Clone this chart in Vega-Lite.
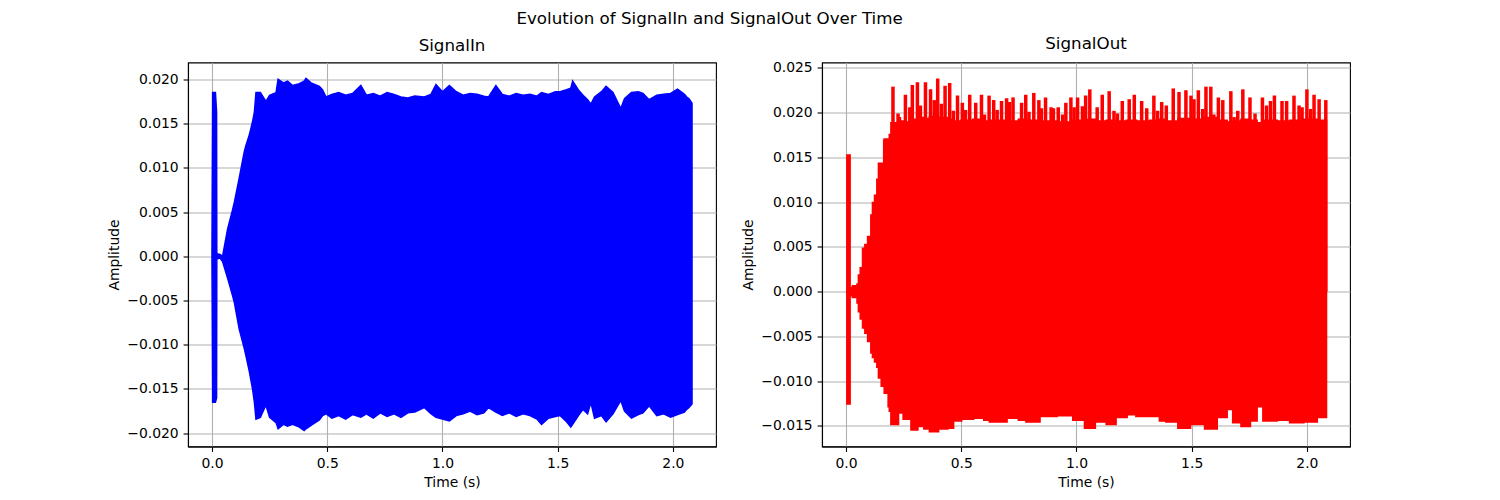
{
  "$schema": "https://vega.github.io/schema/vega-lite/v6.json",
  "description": "SignalIn / SignalOut amplitude envelopes over time, two panels side by side.",
  "title": {
    "text": "Evolution of SignalIn and SignalOut Over Time",
    "anchor": "middle",
    "dx": -19,
    "offset": 8,
    "fontSize": 16.7,
    "fontWeight": "normal",
    "color": "black"
  },
  "padding": {"left": 106, "top": 10.5, "right": 10, "bottom": 10},
  "spacing": 106,
  "bounds": "flush",
  "datasets": {
    "signal_in": [
      {"t": 0.000, "hi": 0.0000, "lo": 0.0000},
      {"t": 0.003, "hi": 0.0185, "lo": -0.0165},
      {"t": 0.015, "hi": 0.0185, "lo": -0.0165},
      {"t": 0.020, "hi": 0.0163, "lo": -0.0160},
      {"t": 0.021, "hi": 0.0003, "lo": -0.0003},
      {"t": 0.035, "hi": 0.0002, "lo": -0.0002},
      {"t": 0.046, "hi": 0.0000, "lo": -0.0006},
      {"t": 0.068, "hi": 0.0031, "lo": -0.0025},
      {"t": 0.089, "hi": 0.0052, "lo": -0.0044},
      {"t": 0.097, "hi": 0.0061, "lo": -0.0052},
      {"t": 0.118, "hi": 0.0088, "lo": -0.0082},
      {"t": 0.140, "hi": 0.0118, "lo": -0.0104},
      {"t": 0.147, "hi": 0.0125, "lo": -0.0112},
      {"t": 0.162, "hi": 0.0137, "lo": -0.0130},
      {"t": 0.176, "hi": 0.0152, "lo": -0.0150},
      {"t": 0.184, "hi": 0.0163, "lo": -0.0165},
      {"t": 0.191, "hi": 0.0185, "lo": -0.0184},
      {"t": 0.210, "hi": 0.0185, "lo": -0.0182},
      {"t": 0.234, "hi": 0.0175, "lo": -0.0168},
      {"t": 0.250, "hi": 0.0182, "lo": -0.0182},
      {"t": 0.278, "hi": 0.0185, "lo": -0.0188},
      {"t": 0.287, "hi": 0.0200, "lo": -0.0195},
      {"t": 0.310, "hi": 0.0196, "lo": -0.0190},
      {"t": 0.328, "hi": 0.0198, "lo": -0.0192},
      {"t": 0.350, "hi": 0.0193, "lo": -0.0190},
      {"t": 0.379, "hi": 0.0195, "lo": -0.0193},
      {"t": 0.400, "hi": 0.0198, "lo": -0.0197},
      {"t": 0.408, "hi": 0.0201, "lo": -0.0195},
      {"t": 0.430, "hi": 0.0196, "lo": -0.0191},
      {"t": 0.466, "hi": 0.0192, "lo": -0.0185},
      {"t": 0.480, "hi": 0.0188, "lo": -0.0180},
      {"t": 0.495, "hi": 0.0180, "lo": -0.0178},
      {"t": 0.520, "hi": 0.0183, "lo": -0.0183},
      {"t": 0.550, "hi": 0.0185, "lo": -0.0180},
      {"t": 0.580, "hi": 0.0182, "lo": -0.0184},
      {"t": 0.610, "hi": 0.0184, "lo": -0.0179},
      {"t": 0.646, "hi": 0.0193, "lo": -0.0182},
      {"t": 0.670, "hi": 0.0182, "lo": -0.0178},
      {"t": 0.700, "hi": 0.0184, "lo": -0.0183},
      {"t": 0.730, "hi": 0.0181, "lo": -0.0177},
      {"t": 0.760, "hi": 0.0185, "lo": -0.0181},
      {"t": 0.790, "hi": 0.0183, "lo": -0.0178},
      {"t": 0.820, "hi": 0.0180, "lo": -0.0182},
      {"t": 0.850, "hi": 0.0179, "lo": -0.0177},
      {"t": 0.880, "hi": 0.0181, "lo": -0.0176},
      {"t": 0.921, "hi": 0.0180, "lo": -0.0171},
      {"t": 0.950, "hi": 0.0183, "lo": -0.0178},
      {"t": 0.972, "hi": 0.0194, "lo": -0.0182},
      {"t": 1.000, "hi": 0.0186, "lo": -0.0184},
      {"t": 1.030, "hi": 0.0193, "lo": -0.0186},
      {"t": 1.060, "hi": 0.0186, "lo": -0.0180},
      {"t": 1.090, "hi": 0.0182, "lo": -0.0178},
      {"t": 1.120, "hi": 0.0184, "lo": -0.0175},
      {"t": 1.150, "hi": 0.0183, "lo": -0.0179},
      {"t": 1.180, "hi": 0.0181, "lo": -0.0177},
      {"t": 1.200, "hi": 0.0180, "lo": -0.0171},
      {"t": 1.232, "hi": 0.0193, "lo": -0.0176},
      {"t": 1.260, "hi": 0.0183, "lo": -0.0180},
      {"t": 1.290, "hi": 0.0181, "lo": -0.0177},
      {"t": 1.320, "hi": 0.0184, "lo": -0.0181},
      {"t": 1.350, "hi": 0.0182, "lo": -0.0178},
      {"t": 1.380, "hi": 0.0183, "lo": -0.0180},
      {"t": 1.410, "hi": 0.0181, "lo": -0.0184},
      {"t": 1.430, "hi": 0.0185, "lo": -0.0190},
      {"t": 1.460, "hi": 0.0183, "lo": -0.0183},
      {"t": 1.490, "hi": 0.0186, "lo": -0.0181},
      {"t": 1.510, "hi": 0.0186, "lo": -0.0180},
      {"t": 1.535, "hi": 0.0188, "lo": -0.0186},
      {"t": 1.557, "hi": 0.0190, "lo": -0.0193},
      {"t": 1.565, "hi": 0.0198, "lo": -0.0190},
      {"t": 1.590, "hi": 0.0188, "lo": -0.0180},
      {"t": 1.610, "hi": 0.0182, "lo": -0.0173},
      {"t": 1.630, "hi": 0.0177, "lo": -0.0178},
      {"t": 1.644, "hi": 0.0172, "lo": -0.0165},
      {"t": 1.660, "hi": 0.0180, "lo": -0.0183},
      {"t": 1.690, "hi": 0.0186, "lo": -0.0180},
      {"t": 1.710, "hi": 0.0192, "lo": -0.0187},
      {"t": 1.740, "hi": 0.0185, "lo": -0.0178},
      {"t": 1.774, "hi": 0.0167, "lo": -0.0163},
      {"t": 1.790, "hi": 0.0178, "lo": -0.0175},
      {"t": 1.820, "hi": 0.0185, "lo": -0.0183},
      {"t": 1.850, "hi": 0.0186, "lo": -0.0179},
      {"t": 1.870, "hi": 0.0184, "lo": -0.0177},
      {"t": 1.897, "hi": 0.0177, "lo": -0.0169},
      {"t": 1.930, "hi": 0.0182, "lo": -0.0180},
      {"t": 1.960, "hi": 0.0183, "lo": -0.0178},
      {"t": 1.990, "hi": 0.0184, "lo": -0.0182},
      {"t": 2.020, "hi": 0.0189, "lo": -0.0179},
      {"t": 2.050, "hi": 0.0183, "lo": -0.0176},
      {"t": 2.060, "hi": 0.0180, "lo": -0.0173},
      {"t": 2.070, "hi": 0.0178, "lo": -0.0171},
      {"t": 2.083, "hi": 0.0173, "lo": -0.0167}
    ],
    "signal_out": [
      {"t": 0.000, "hi": 0.0000, "lo": 0.0000},
      {"t": 0.006, "hi": 0.0152, "lo": -0.0125},
      {"t": 0.016, "hi": 0.0004, "lo": -0.0004},
      {"t": 0.030, "hi": 0.0006, "lo": -0.0006},
      {"t": 0.040, "hi": 0.0001, "lo": -0.0002},
      {"t": 0.050, "hi": 0.0008, "lo": -0.0012},
      {"t": 0.056, "hi": 0.0018, "lo": -0.0022},
      {"t": 0.064, "hi": 0.0026, "lo": -0.0030},
      {"t": 0.074, "hi": 0.0048, "lo": -0.0040},
      {"t": 0.084, "hi": 0.0052, "lo": -0.0046},
      {"t": 0.096, "hi": 0.0061, "lo": -0.0055},
      {"t": 0.110, "hi": 0.0085, "lo": -0.0068},
      {"t": 0.117, "hi": 0.0099, "lo": -0.0073},
      {"t": 0.126, "hi": 0.0107, "lo": -0.0078},
      {"t": 0.136, "hi": 0.0125, "lo": -0.0084},
      {"t": 0.143, "hi": 0.0143, "lo": -0.0096},
      {"t": 0.155, "hi": 0.0143, "lo": -0.0105},
      {"t": 0.168, "hi": 0.0170, "lo": -0.0113},
      {"t": 0.185, "hi": 0.0170, "lo": -0.0128},
      {"t": 0.190, "hi": 0.0175, "lo": -0.0133},
      {"t": 0.197, "hi": 0.0188, "lo": -0.0148},
      {"t": 0.215, "hi": 0.0186, "lo": -0.0148},
      {"t": 0.226, "hi": 0.0190, "lo": -0.0135},
      {"t": 0.250, "hi": 0.0189, "lo": -0.0142},
      {"t": 0.284, "hi": 0.0192, "lo": -0.0154},
      {"t": 0.310, "hi": 0.0194, "lo": -0.0150},
      {"t": 0.340, "hi": 0.0193, "lo": -0.0153},
      {"t": 0.364, "hi": 0.0195, "lo": -0.0156},
      {"t": 0.400, "hi": 0.0194, "lo": -0.0153},
      {"t": 0.440, "hi": 0.0192, "lo": -0.0152},
      {"t": 0.465, "hi": 0.0190, "lo": -0.0144},
      {"t": 0.500, "hi": 0.0191, "lo": -0.0142},
      {"t": 0.552, "hi": 0.0192, "lo": -0.0141},
      {"t": 0.600, "hi": 0.0190, "lo": -0.0143},
      {"t": 0.624, "hi": 0.0191, "lo": -0.0145},
      {"t": 0.697, "hi": 0.0190, "lo": -0.0141},
      {"t": 0.750, "hi": 0.0192, "lo": -0.0143},
      {"t": 0.783, "hi": 0.0191, "lo": -0.0145},
      {"t": 0.840, "hi": 0.0190, "lo": -0.0139},
      {"t": 0.914, "hi": 0.0189, "lo": -0.0138},
      {"t": 0.986, "hi": 0.0191, "lo": -0.0143},
      {"t": 1.037, "hi": 0.0192, "lo": -0.0152},
      {"t": 1.080, "hi": 0.0190, "lo": -0.0145},
      {"t": 1.131, "hi": 0.0191, "lo": -0.0148},
      {"t": 1.170, "hi": 0.0190, "lo": -0.0140},
      {"t": 1.218, "hi": 0.0191, "lo": -0.0137},
      {"t": 1.260, "hi": 0.0190, "lo": -0.0139},
      {"t": 1.319, "hi": 0.0191, "lo": -0.0139},
      {"t": 1.362, "hi": 0.0192, "lo": -0.0144},
      {"t": 1.390, "hi": 0.0190, "lo": -0.0145},
      {"t": 1.442, "hi": 0.0193, "lo": -0.0152},
      {"t": 1.493, "hi": 0.0192, "lo": -0.0148},
      {"t": 1.558, "hi": 0.0194, "lo": -0.0153},
      {"t": 1.609, "hi": 0.0191, "lo": -0.0140},
      {"t": 1.652, "hi": 0.0189, "lo": -0.0131},
      {"t": 1.680, "hi": 0.0190, "lo": -0.0146},
      {"t": 1.716, "hi": 0.0192, "lo": -0.0150},
      {"t": 1.753, "hi": 0.0191, "lo": -0.0144},
      {"t": 1.782, "hi": 0.0188, "lo": -0.0128},
      {"t": 1.811, "hi": 0.0191, "lo": -0.0144},
      {"t": 1.869, "hi": 0.0190, "lo": -0.0143},
      {"t": 1.927, "hi": 0.0191, "lo": -0.0146},
      {"t": 1.985, "hi": 0.0192, "lo": -0.0145},
      {"t": 2.043, "hi": 0.0191, "lo": -0.0140},
      {"t": 2.083, "hi": 0.0190, "lo": -0.0135}
    ],
    "out_peaks": [
      {"t": 0.168, "peak": 0.0170}, {"t": 0.178, "peak": 0.0170},
      {"t": 0.204, "peak": 0.0229}, {"t": 0.226, "peak": 0.0199},
      {"t": 0.232, "peak": 0.0195}, {"t": 0.258, "peak": 0.0220},
      {"t": 0.277, "peak": 0.0206}, {"t": 0.288, "peak": 0.0231},
      {"t": 0.310, "peak": 0.0234}, {"t": 0.323, "peak": 0.0208},
      {"t": 0.345, "peak": 0.0234}, {"t": 0.367, "peak": 0.0226},
      {"t": 0.383, "peak": 0.0214}, {"t": 0.398, "peak": 0.0238},
      {"t": 0.414, "peak": 0.0210}, {"t": 0.430, "peak": 0.0230},
      {"t": 0.450, "peak": 0.0233}, {"t": 0.466, "peak": 0.0202},
      {"t": 0.484, "peak": 0.0219}, {"t": 0.505, "peak": 0.0211},
      {"t": 0.519, "peak": 0.0203}, {"t": 0.537, "peak": 0.0220},
      {"t": 0.563, "peak": 0.0211}, {"t": 0.588, "peak": 0.0220},
      {"t": 0.601, "peak": 0.0198}, {"t": 0.621, "peak": 0.0219},
      {"t": 0.641, "peak": 0.0214}, {"t": 0.656, "peak": 0.0203},
      {"t": 0.675, "peak": 0.0213}, {"t": 0.697, "peak": 0.0216},
      {"t": 0.710, "peak": 0.0212}, {"t": 0.725, "peak": 0.0217},
      {"t": 0.762, "peak": 0.0211}, {"t": 0.780, "peak": 0.0220},
      {"t": 0.794, "peak": 0.0201}, {"t": 0.815, "peak": 0.0222},
      {"t": 0.837, "peak": 0.0214}, {"t": 0.848, "peak": 0.0205},
      {"t": 0.866, "peak": 0.0217}, {"t": 0.890, "peak": 0.0206},
      {"t": 0.900, "peak": 0.0205}, {"t": 0.921, "peak": 0.0206},
      {"t": 0.940, "peak": 0.0198}, {"t": 0.954, "peak": 0.0211},
      {"t": 0.976, "peak": 0.0217}, {"t": 0.990, "peak": 0.0206},
      {"t": 1.005, "peak": 0.0217}, {"t": 1.026, "peak": 0.0207},
      {"t": 1.040, "peak": 0.0219}, {"t": 1.058, "peak": 0.0226},
      {"t": 1.090, "peak": 0.0206}, {"t": 1.112, "peak": 0.0220},
      {"t": 1.142, "peak": 0.0224}, {"t": 1.163, "peak": 0.0202},
      {"t": 1.178, "peak": 0.0199}, {"t": 1.199, "peak": 0.0213},
      {"t": 1.229, "peak": 0.0215}, {"t": 1.251, "peak": 0.0220},
      {"t": 1.283, "peak": 0.0213}, {"t": 1.305, "peak": 0.0205},
      {"t": 1.336, "peak": 0.0219}, {"t": 1.352, "peak": 0.0202},
      {"t": 1.370, "peak": 0.0212}, {"t": 1.390, "peak": 0.0208},
      {"t": 1.420, "peak": 0.0227}, {"t": 1.445, "peak": 0.0223},
      {"t": 1.475, "peak": 0.0225}, {"t": 1.497, "peak": 0.0219},
      {"t": 1.510, "peak": 0.0215}, {"t": 1.529, "peak": 0.0225},
      {"t": 1.548, "peak": 0.0204}, {"t": 1.562, "peak": 0.0229},
      {"t": 1.583, "peak": 0.0229}, {"t": 1.596, "peak": 0.0198},
      {"t": 1.616, "peak": 0.0217}, {"t": 1.635, "peak": 0.0214},
      {"t": 1.653, "peak": 0.0189}, {"t": 1.670, "peak": 0.0224},
      {"t": 1.684, "peak": 0.0195}, {"t": 1.700, "peak": 0.0202},
      {"t": 1.722, "peak": 0.0226}, {"t": 1.736, "peak": 0.0192},
      {"t": 1.753, "peak": 0.0217}, {"t": 1.775, "peak": 0.0199},
      {"t": 1.790, "peak": 0.0186}, {"t": 1.807, "peak": 0.0217},
      {"t": 1.825, "peak": 0.0208}, {"t": 1.842, "peak": 0.0213},
      {"t": 1.859, "peak": 0.0219}, {"t": 1.876, "peak": 0.0189},
      {"t": 1.892, "peak": 0.0213}, {"t": 1.912, "peak": 0.0213},
      {"t": 1.926, "peak": 0.0189}, {"t": 1.944, "peak": 0.0219},
      {"t": 1.966, "peak": 0.0208}, {"t": 1.979, "peak": 0.0206},
      {"t": 2.000, "peak": 0.0226}, {"t": 2.016, "peak": 0.0204},
      {"t": 2.031, "peak": 0.0220}, {"t": 2.053, "peak": 0.0215},
      {"t": 2.068, "peak": 0.0185}, {"t": 2.082, "peak": 0.0214}
    ]
  },
  "hconcat": [
    {
      "title": {"text": "SignalIn", "offset": 8},
      "width": 528,
      "height": 384,
      "data": {"name": "signal_in"},
      "mark": {"type": "area", "color": "blue", "stroke": "blue", "strokeWidth": 1.5},
      "encoding": {
        "x": {
          "field": "t", "type": "quantitative",
          "scale": {"domain": [-0.104, 2.187], "nice": false, "zero": false},
          "axis": {"title": "Time (s)", "values": [0, 0.5, 1, 1.5, 2], "format": ".1f"}
        },
        "y": {
          "field": "hi", "type": "quantitative",
          "scale": {"domain": [-0.0215, 0.0219], "nice": false, "zero": false},
          "axis": {"title": "Amplitude", "values": [-0.02, -0.015, -0.01, -0.005, 0, 0.005, 0.01, 0.015, 0.02], "format": ".3f"}
        },
        "y2": {"field": "lo"}
      }
    },
    {
      "title": {"text": "SignalOut", "offset": 8},
      "width": 528,
      "height": 384,
      "encoding": {
        "x": {
          "field": "t", "type": "quantitative",
          "scale": {"domain": [-0.104, 2.187], "nice": false, "zero": false},
          "axis": {"title": "Time (s)", "values": [0, 0.5, 1, 1.5, 2], "format": ".1f"}
        }
      },
      "layer": [
        {
          "data": {"name": "signal_out"},
          "mark": {"type": "area", "color": "red", "stroke": "red", "strokeWidth": 2.5, "interpolate": "step-after"},
          "encoding": {
            "y": {
              "field": "hi", "type": "quantitative",
              "scale": {"domain": [-0.0173, 0.0256], "nice": false, "zero": false},
              "axis": {"title": "Amplitude", "values": [-0.015, -0.01, -0.005, 0, 0.005, 0.01, 0.015, 0.02, 0.025], "format": ".3f"}
            },
            "y2": {"field": "lo"}
          }
        },
        {
          "data": {"name": "out_peaks"},
          "mark": {"type": "rule", "color": "red", "strokeWidth": 3.5},
          "encoding": {
            "y": {"field": "peak", "type": "quantitative"},
            "y2": {"datum": 0}
          }
        }
      ]
    }
  ],
  "config": {
    "font": "DejaVu Sans",
    "view": {"stroke": "black", "strokeWidth": 1.1},
    "axis": {
      "grid": true,
      "gridColor": "#b0b0b0",
      "gridWidth": 1.1,
      "domainColor": "black",
      "domainWidth": 1.1,
      "tickColor": "black",
      "tickWidth": 1.1,
      "tickSize": 4.9,
      "labelPadding": 4.9,
      "labelFontSize": 13.9,
      "labelColor": "black",
      "labelFont": "DejaVu Sans",
      "titleFont": "DejaVu Sans",
      "titleFontSize": 13.9,
      "titleFontWeight": "normal",
      "titleColor": "black",
      "titlePadding": 5.6
    },
    "title": {"font": "DejaVu Sans", "fontSize": 16.7, "fontWeight": "normal", "color": "black"}
  }
}
